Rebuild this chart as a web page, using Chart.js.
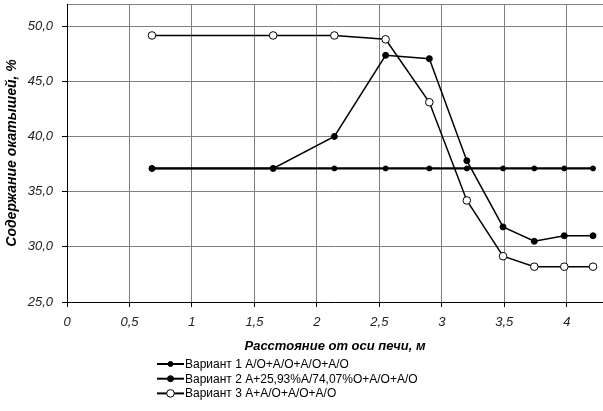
<!DOCTYPE html>
<html>
<head>
<meta charset="utf-8">
<script src="https://cdn.jsdelivr.net/npm/chart.js@4/dist/chart.umd.min.js"></script>
<style>
  body { margin: 0; background: #fff; }
  #wrap { width: 603px; height: 411px; position: relative; }
</style>
</head>
<body>
<div id="wrap"><canvas id="chart"></canvas></div>
<script>
// Values
const distances = [0.68, 1.65, 2.14, 2.55, 2.9, 3.2, 3.49, 3.74, 3.98, 4.21];
const variant1 = [37.1, 37.1, 37.1, 37.1, 37.1, 37.1, 37.1, 37.1, 37.1, 37.1];
const variant2 = [37.1, 37.1, 40.0, 47.35, 47.05, 37.8, 31.8, 30.5, 31.0, 31.0];
const variant3 = [49.15, 49.15, 49.15, 48.8, 43.1, 34.2, 29.15, 28.2, 28.2, 28.2];
const seriesLabels = [
    'Вариант 1 А/О+А/О+А/О+А/О',
    'Вариант 2 А+25,93%А/74,07%О+А/О+А/О',
    'Вариант 3 А+А/О+А/О+А/О'
];
const xTickValues = [0, 0.5, 1, 1.5, 2, 2.5, 3, 3.5, 4];
const yTickValues = [25, 30, 35, 40, 45, 50, 52];
const xTitle = 'Расстояние от оси печи, м';
const yTitle = 'Содержание окатышей, %';

// Turn two arrays into {x, y} points
function toPoints(ys) {
    return distances.map((d, i) => ({ x: d, y: ys[i] }));
}

// Look of each series (also used for the legend)
const seriesStyles = [
    { width: 2.2, radius: 2.5, fill: '#000' },
    { width: 1.5, radius: 3, fill: '#000' },
    { width: 1.5, radius: 3.8, fill: '#fff' }
];

// Legend drawn by hand, one row per series under the x axis title
const legendPlugin = {
    id: 'rowLegend',
    afterDraw(chart) {
        const ctx = chart.ctx;
        ctx.save();
        ctx.font = '12px "Liberation Sans", Arial, sans-serif';
        ctx.textBaseline = 'middle';
        seriesLabels.forEach((label, i) => {
            const st = seriesStyles[i];
            const y = 364 + i * 14.7;
            ctx.strokeStyle = '#000';
            ctx.lineWidth = 2;
            ctx.beginPath();
            ctx.moveTo(157, y);
            ctx.lineTo(184, y);
            ctx.stroke();
            ctx.beginPath();
            ctx.arc(170.5, y, st.radius, 0, Math.PI * 2);
            ctx.fillStyle = st.fill;
            ctx.fill();
            ctx.lineWidth = 1;
            ctx.stroke();
            ctx.fillStyle = '#000';
            ctx.fillText(label, 185, y + 0.5);
        });
        ctx.restore();
    }
};

const tickFont = { family: '"Liberation Sans", Arial, sans-serif', size: 13, style: 'italic' };

const datasets = [variant1, variant2, variant3].map((vals, i) => ({
    label: seriesLabels[i],
    data: toPoints(vals),
    borderColor: '#000',
    borderWidth: seriesStyles[i].width,
    backgroundColor: seriesStyles[i].fill,
    pointBackgroundColor: seriesStyles[i].fill,
    pointBorderColor: '#000',
    pointBorderWidth: 1,
    pointRadius: seriesStyles[i].radius,
    tension: 0,
    clip: 6,
    order: 3 - i
}));

let ctx = document.getElementById('chart');

new Chart(ctx, {
    type: 'line',
    data: { datasets: datasets },
    options: {
        responsive: true,
        maintainAspectRatio: false,
        animation: false,
        layout: { autoPadding: false, padding: { left: 0, right: 0, top: 4, bottom: 57 } },
        plugins: {
            legend: { display: false },
            tooltip: { enabled: false }
        },
        scales: {
            x: {
                type: 'linear',
                min: 0,
                max: 4.29,
                afterBuildTicks: scale => {
                    scale.ticks = xTickValues.map(v => ({ value: v }));
                },
                afterFit: scale => {
                    scale.height = 52;
                    scale.paddingLeft = 0;
                    scale.paddingRight = 0;
                },
                border: { color: '#000', width: 1 },
                grid: { color: '#808080', lineWidth: 1, tickLength: 5, tickColor: '#000' },
                ticks: {
                    padding: 8,
                    color: '#222',
                    font: tickFont,
                    maxRotation: 0,
                    autoSkip: false,
                    callback: v => String(v).replace('.', ',')
                },
                title: {
                    display: true, text: xTitle, color: '#000', padding: 0,
                    font: { family: '"Liberation Sans", Arial, sans-serif', size: 13, style: 'italic', weight: 'bold' }
                }
            },
            y: {
                min: 25,
                max: 52,
                afterBuildTicks: scale => {
                    scale.ticks = yTickValues.map(v => ({ value: v }));
                },
                afterFit: scale => {
                    scale.width = 67;
                    scale.paddingTop = 0;
                    scale.paddingBottom = 0;
                },
                border: { color: '#000', width: 1 },
                grid: {
                    color: '#808080',
                    lineWidth: 1,
                    tickLength: 5,
                    tickColor: c => (c.tick && c.tick.value % 5 === 0) ? '#000' : 'rgba(0,0,0,0)'
                },
                ticks: {
                    padding: 9,
                    color: '#222',
                    font: tickFont,
                    autoSkip: false,
                    callback: v => (v % 5 === 0) ? v.toFixed(1).replace('.', ',') : ''
                },
                title: {
                    display: true, text: yTitle, color: '#000', padding: { top: 4, bottom: 0 },
                    font: { family: '"Liberation Sans", Arial, sans-serif', size: 14, style: 'italic', weight: 'bold' }
                }
            }
        }
    },
    plugins: [legendPlugin]
});
</script>
</body>
</html>
